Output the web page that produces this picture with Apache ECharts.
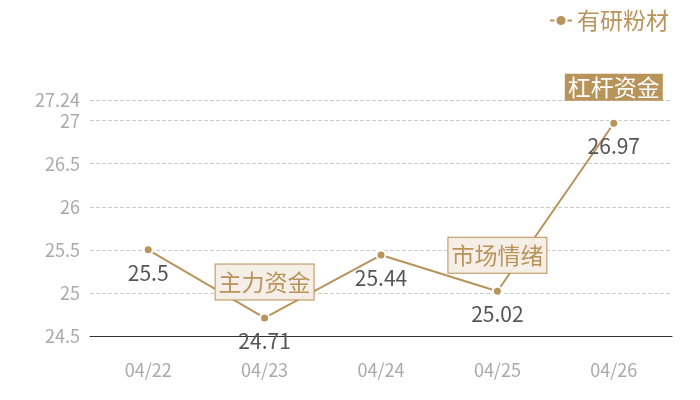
<!DOCTYPE html>
<html lang="zh">
<head>
    <meta charset="UTF-8">
    <title>有研粉材</title>
    <script src="https://cdn.jsdelivr.net/npm/echarts@6/dist/echarts.min.js"></script>
    <style>
        html, body { margin: 0; padding: 0; background: #fff; }
        #main { width: 700px; height: 400px; }
    </style>
</head>
<body>
<div id="main"></div>
<script type="text/javascript">
    // 数据
    var dates = ['04/22', '04/23', '04/24', '04/25', '04/26'];
    var prices = [25.5, 24.71, 25.44, 25.02, 26.97];
    var tagNames = ['主力资金', '市场情绪', '杠杆资金'];
    var tagDates = ['04/23', '04/25', '04/26'];
    var tagValues = [24.71, 25.02, 26.97];

    var gold = '#b8935a';
    var font = '"Noto Sans CJK SC", sans-serif';

    var marks = [];
    for (var i = 0; i < tagNames.length; i++) {
        var last = i === tagNames.length - 1;
        marks.push({
            name: tagNames[i],
            coord: [tagDates[i], tagValues[i]],
            label: {
                formatter: tagNames[i],
                color: last ? '#fff' : gold,
                backgroundColor: last ? gold : 'rgba(245,238,230,0.95)',
                borderColor: gold,
                borderWidth: last ? 0 : 1,
                padding: last ? [2, 3] : [6, 3]
            }
        });
    }

    var myChart = echarts.init(document.getElementById('main'));
    myChart.setOption({
        textStyle: { fontFamily: font },
        legend: {
            right: 26,
            top: 4,
            itemWidth: 22,
            itemHeight: 14,
            itemGap: 6,
            textStyle: { color: gold, fontSize: 23, fontFamily: font },
            data: ['有研粉材']
        },
        grid: { left: 90, right: 28, top: 100, bottom: 64 },
        xAxis: {
            type: 'category',
            data: dates,
            axisLine: { lineStyle: { color: '#333', width: 1 } },
            axisTick: { show: false },
            axisLabel: { color: '#aaa', fontSize: 18, margin: 25, fontFamily: font }
        },
        yAxis: {
            type: 'value',
            min: 24.5,
            max: 27.24,
            interval: 0.5,
            axisLine: { show: false },
            axisTick: { show: false },
            axisLabel: { color: '#aaa', fontSize: 18, margin: 10, fontFamily: font },
            splitLine: { lineStyle: { color: '#ccc', type: 'dashed', width: 1 } }
        },
        series: [{
            name: '有研粉材',
            type: 'line',
            data: prices,
            symbol: 'circle',
            symbolSize: 9,
            itemStyle: { color: gold, borderColor: '#fff', borderWidth: 2 },
            lineStyle: { color: gold, width: 2 },
            label: {
                show: true,
                position: 'bottom',
                distance: 7,
                color: '#555',
                fontSize: 21,
                fontFamily: font
            },
            markPoint: {
                symbol: 'circle',
                symbolSize: 1,
                itemStyle: { color: 'rgba(0,0,0,0)' },
                label: {
                    show: true,
                    position: 'inside',
                    offset: [0, -36],
                    fontSize: 23,
                    fontFamily: font
                },
                data: marks
            }
        }]
    });
</script>
</body>
</html>
